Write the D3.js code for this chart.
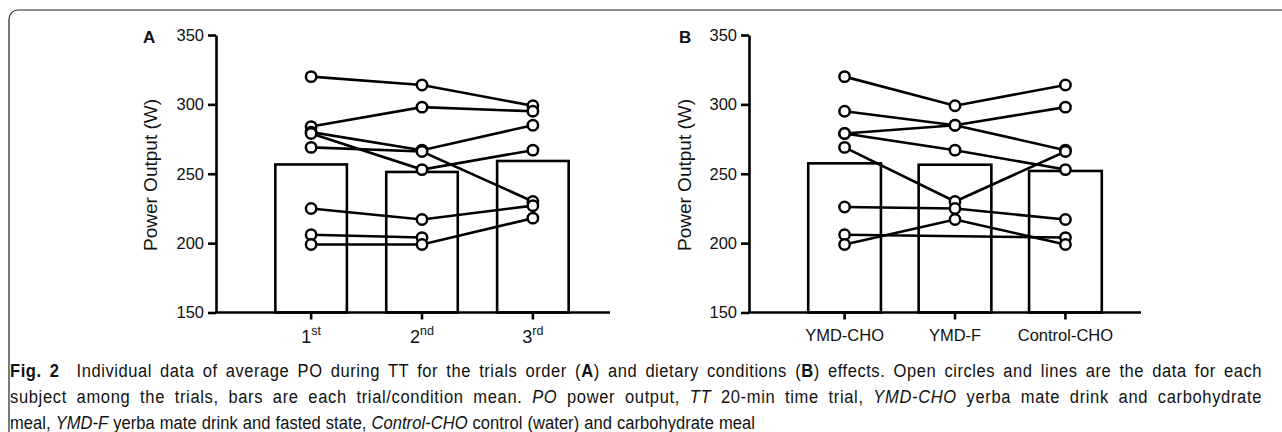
<!DOCTYPE html>
<html>
<head>
<meta charset="utf-8">
<script src="https://cdn.jsdelivr.net/npm/d3@7/dist/d3.min.js"></script>
<style>
  html, body { margin: 0; padding: 0; background: #fff; }
  svg { display: block; }
  text { font-family: "Liberation Sans", Arial, sans-serif; fill: #111; }
</style>
</head>
<body>
<div id="chart"></div>
<script>
// ---- data ----
var orderCats = ['1st', '2nd', '3rd'];
var orderNums = ['1', '2', '3'];
var orderSuffix = ['st', 'nd', 'rd'];
var conditionCats = ['YMD-CHO', 'YMD-F', 'Control-CHO'];

var yTicks = [150, 200, 250, 300, 350];

// bar heights (trial / condition mean)
var orderMeans = [256.7, 251.3, 259.2];
var conditionMeans = [257.5, 256.5, 252];

// one row per subject, null = missing trial
var orderSubjects = [
  [320, 314, 299],
  [284, 298, 295],
  [280, 267, 285],
  [279, 253, 267],
  [269, 266, 230],
  [225, 217, 227],
  [206, 204, null],
  [199, 199, 218]
];
var conditionSubjects = [
  [320, 299, 314],
  [295, 285, 298],
  [279, 285, 267],
  [279, 267, 253],
  [269, 230, 266],
  [226, 225, 217],
  [206, null, 204],
  [199, 217, 199]
];

var width = 1282, height = 432;

var svg = d3.select('#chart')
  .append('svg')
  .attr('width', width)
  .attr('height', height);

// rounded frame around the figure (runs off the right / bottom edge)
svg.append('rect')
  .attr('x', 9).attr('y', 10)
  .attr('width', 1300).attr('height', 500)
  .attr('rx', 9)
  .attr('fill', 'none')
  .attr('stroke', '#222')
  .attr('stroke-width', 1.2);

function drawPanel(opt) {
  var g = svg.append('g');

  var y = d3.scaleLinear().domain([150, 350]).range([312.5, 35]);
  var x = d3.scaleBand().domain(opt.cats).range(opt.xRange).padding(opt.pad);
  var cx = function (c) { return x(c) + x.bandwidth() / 2; };

  // bars
  g.selectAll('rect.bar')
    .data(opt.means)
    .enter()
    .append('rect')
    .attr('class', 'bar')
    .attr('x', function (d, i) { return x(opt.cats[i]); })
    .attr('y', function (d) { return y(d); })
    .attr('width', x.bandwidth())
    .attr('height', function (d) { return y(150) - y(d); })
    .attr('fill', '#fff')
    .attr('stroke', '#000')
    .attr('stroke-width', 2.6);

  // subject lines
  var line = d3.line()
    .x(function (d) { return cx(d.c); })
    .y(function (d) { return y(d.v); });

  var pts = opt.subjects.map(function (row) {
    return row.map(function (v, i) { return { c: opt.cats[i], v: v }; })
              .filter(function (p) { return p.v != null; });
  });

  g.selectAll('path.subj')
    .data(pts)
    .enter()
    .append('path')
    .attr('class', 'subj')
    .attr('d', line)
    .attr('fill', 'none')
    .attr('stroke', '#000')
    .attr('stroke-width', 2.6);

  g.selectAll('circle')
    .data(d3.merge(pts))
    .enter()
    .append('circle')
    .attr('cx', function (d) { return cx(d.c); })
    .attr('cy', function (d) { return y(d.v); })
    .attr('r', 5.2)
    .attr('fill', '#fff')
    .attr('stroke', '#000')
    .attr('stroke-width', 2.5);

  // y axis
  var yAxis = g.append('g')
    .attr('transform', 'translate(' + opt.axisX + ',0)')
    .call(d3.axisLeft(y).tickValues(yTicks).tickSize(8).tickSizeOuter(0).tickPadding(4));
  yAxis.selectAll('path, line').attr('stroke', '#000').attr('stroke-width', 2.6);
  yAxis.selectAll('text')
    .attr('font-size', 16.5)
    .attr('font-family', '"Liberation Sans", Arial, sans-serif')
    .attr('fill', '#222');

  // x axis
  var xAxis = g.append('g')
    .attr('transform', 'translate(0,' + y(150) + ')')
    .call(d3.axisBottom(x).tickSize(7).tickSizeOuter(0).tickFormat(''));
  xAxis.select('.domain').remove();
  xAxis.selectAll('line').attr('stroke', '#000').attr('stroke-width', 2.6);

  g.append('line')
    .attr('x1', opt.axisX).attr('x2', opt.axisEnd)
    .attr('y1', y(150)).attr('y2', y(150))
    .attr('stroke', '#000')
    .attr('stroke-width', 2.6);

  opt.labels(xAxis.selectAll('.tick'));

  // y title
  g.append('text')
    .attr('transform', 'translate(' + opt.titleX + ',175) rotate(-90)')
    .attr('text-anchor', 'middle')
    .attr('font-size', 19)
    .attr('fill', '#222')
    .text('Power Output (W)');

  // panel letter
  g.append('text')
    .attr('x', opt.letterX).attr('y', 43)
    .attr('font-size', 17)
    .attr('font-weight', 'bold')
    .attr('fill', '#000')
    .text(opt.letter);
}

drawPanel({
  cats: orderCats,
  means: orderMeans,
  subjects: orderSubjects,
  xRange: [236, 608],
  pad: 44 / 124,
  axisX: 216,
  axisEnd: 610,
  titleX: 157,
  letterX: 143,
  letter: 'A',
  labels: function (ticks) {
    var t = ticks.append('text')
      .attr('y', 30)
      .attr('text-anchor', 'middle')
      .attr('fill', '#222');
    t.append('tspan')
      .attr('font-size', 18)
      .text(function (d, i) { return orderNums[i]; });
    t.append('tspan')
      .attr('font-size', 12.5)
      .attr('dy', -8)
      .text(function (d, i) { return orderSuffix[i]; });
  }
});

drawPanel({
  cats: conditionCats,
  means: conditionMeans,
  subjects: conditionSubjects,
  xRange: [770.5, 1139.5],
  pad: 42 / 123,
  axisX: 749,
  axisEnd: 1141,
  titleX: 691,
  letterX: 679,
  letter: 'B',
  labels: function (ticks) {
    ticks.append('text')
      .attr('y', 28)
      .attr('text-anchor', 'middle')
      .attr('font-size', 16.5)
      .attr('fill', '#222')
      .text(function (d) { return d; });
  }
});

// ---- caption: squeezed horizontally to mimic the condensed journal font ----
var squeeze = 0.87;
var cap = svg.append('g')
  .attr('class', 'caption')
  .attr('transform', 'translate(10,0) scale(' + squeeze + ',1)');

function capLine(yPos, parts, len) {
  var t = cap.append('text')
    .attr('x', 0)
    .attr('y', yPos)
    .attr('font-size', 19)
    .attr('fill', '#222');
  parts.forEach(function (p) {
    var s = t.append('tspan').text(p[0]);
    if (p[1] === 'b') s.attr('font-weight', 'bold').attr('fill', '#111');
    if (p[1] === 'i') s.attr('font-style', 'italic');
  });
  // stretch the line to its measured width: half through letters, half through spaces
  var str = parts.map(function (p) { return p[0]; }).join('');
  var natural = t.node().getComputedTextLength();
  var extra = len / squeeze - natural;
  var spaces = str.split(' ').length - 1;
  if (extra > 0) {
    var ls = (extra / 2) / str.length;
    var ws = (extra - ls * str.length) / spaces;
    t.attr('letter-spacing', ls.toFixed(3)).attr('word-spacing', ws.toFixed(2));
  } else {
    t.attr('word-spacing', (extra / spaces).toFixed(2));
  }
}

capLine(377, [
  ['Fig. 2', 'b'],
  ['\u2002 Individual data of average PO during TT for the trials order ('],
  ['A', 'b'],
  [') and dietary conditions ('],
  ['B', 'b'],
  [') effects. Open circles and lines are the data for each']
], 1252);

capLine(403, [
  ['subject among the trials, bars are each trial/condition mean. '],
  ['PO', 'i'],
  [' power output, '],
  ['TT', 'i'],
  [' 20-min time trial, '],
  ['YMD-CHO', 'i'],
  [' yerba mate drink and carbohydrate']
], 1252);

capLine(429, [
  ['meal, '],
  ['YMD-F', 'i'],
  [' yerba mate drink and fasted state, '],
  ['Control-CHO', 'i'],
  [' control (water) and carbohydrate meal']
], 745);
</script>
</body>
</html>
